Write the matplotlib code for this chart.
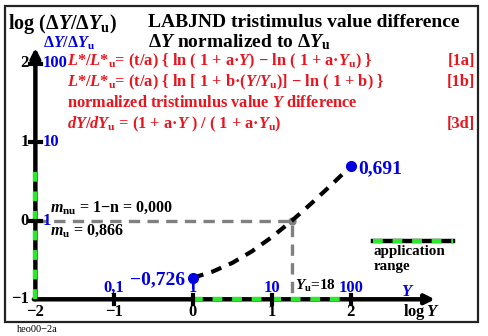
import matplotlib
matplotlib.use("Agg")
import matplotlib.pyplot as plt

# data
log_y = [0.0, 0.25, 0.5, 0.75, 1.0, 1.255, 1.5, 1.75, 2.0]
log_ratio = [-0.726, -0.647, -0.536, -0.388, -0.209, 0.0, 0.218, 0.451, 0.691]
x_ticks = [-2, -1, 0, 1, 2]
y_ticks = [-1, 0, 1, 2]
x_blue = ["0,1", "1", "10", "100"]
y_blue = ["1", "10", "100"]
log_yu = 1.255
end_lo, end_hi = -0.726, 0.691

RED = "#e8141e"
BLUE = "#0000e0"
GREEN = "#2ee82e"
GREY = "#808080"

plt.rcParams["font.family"] = ["Liberation Serif", "DejaVu Serif"]
plt.rcParams["font.weight"] = "bold"
plt.rcParams["mathtext.fontset"] = "custom"
plt.rcParams["mathtext.rm"] = "Liberation Serif:bold"
plt.rcParams["mathtext.it"] = "Liberation Serif:bold:italic"
plt.rcParams["mathtext.bf"] = "Liberation Serif:bold"

W, H = 489, 336
fig = plt.figure(figsize=(W / 100, H / 100), dpi=100)
ax = fig.add_axes([0, 0, 1, 1])
ax.set_xlim(-2.449, 3.756)
ax.set_ylim(-1.467, 2.808)
ax.axis("off")


def T(xp, yp, s, **kw):
    # place text by pixel position (from top-left)
    fig.text(xp / W, 1 - yp / H, s, **kw)


# frame
fig.patches.append(plt.Rectangle((5 / W, 1 - 322 / H), 473 / W, 316 / H,
                                 transform=fig.transFigure, fill=False,
                                 lw=1.6, ec="#222222"))

# axes with arrows
ax.annotate("", xy=(-2, 2.2), xytext=(-2, -1),
            arrowprops=dict(arrowstyle="-|>", lw=3.2, color="k",
                            mutation_scale=14, shrinkA=0, shrinkB=0))
ax.annotate("", xy=(3.07, -1), xytext=(-2.02, -1),
            arrowprops=dict(arrowstyle="-|>", lw=3.2, color="k",
                            mutation_scale=14, shrinkA=0, shrinkB=0))

# application range (green dashes on the axes)
ax.plot([0, 2], [-1, -1], color=GREEN, lw=3.2, dashes=(2.2, 2.2), zorder=3)
ax.plot([-2, -2], [-1, end_hi], color=GREEN, lw=3.2, dashes=(2.2, 2.2), zorder=3)

# ticks
for t in x_ticks[1:]:
    ax.plot([t, t], [-1.06, -0.94], color="k", lw=3, zorder=4)
for t in y_ticks[1:]:
    ax.plot([-2.07, -1.93], [t, t], color="k", lw=3, zorder=4)

# grey reference lines
ax.plot([-2, log_yu, log_yu], [0, 0, -1], color=GREY, lw=2.4,
        dashes=(3.4, 2.2), zorder=2)
ax.plot([log_yu], [0], "o", color=GREY, ms=5, zorder=3)

# curve
ax.plot(log_y, log_ratio, color="k", lw=3, dashes=(2.6, 2.0), zorder=3)
ax.plot([0, 0], [end_lo, -0.85], color=BLUE, lw=1.5, zorder=4)
ax.plot([0, 2], [end_lo, end_hi], "o", color=BLUE, ms=7, zorder=5)

# legend line
ax.plot([2.284, 3.30], [-0.258, -0.258], color="k", lw=3.2)
ax.plot([2.284, 3.30], [-0.258, -0.258], color=GREEN, lw=3.2, dashes=(2.2, 2.2))

# tick labels
for t in x_ticks:
    lab = "\u2212" + str(-t) if t < 0 else str(t)
    ax.text(t, -1.0 - 0.16, lab, fontsize=12, ha="center", va="center")
for t, yp in zip(y_ticks, [299, 221, 142, 63]):
    lab = "\u2212" + str(-t) if t < 0 else str(t)
    T(29, yp, lab, fontsize=12, ha="right", va="center")
for lab, t in zip(x_blue, x_ticks[1:]):
    ax.text(t, -0.86, lab, fontsize=12, ha="center", va="center", color=BLUE)
for lab, yp in zip(y_blue, [221, 142, 63]):
    T(43, yp, lab, fontsize=12, ha="left", va="center", color=BLUE)
T(408, 292, "$Y$", fontsize=12, ha="center", va="center", color=BLUE)
T(421, 312, "log$\\,Y$", fontsize=12, ha="center", va="center")

# titles
T(8, 29, "log ($\\Delta Y/\\Delta Y_\\mathrm{u}$)", fontsize=14.5)
T(148, 27, "LABJND tristimulus value difference", fontsize=14)
T(148, 47, "$\\Delta Y$ normalized to $\\Delta Y_\\mathrm{u}$", fontsize=14)
T(43, 48, "$\\Delta Y/\\Delta Y_\\mathrm{u}$", fontsize=11.5, color=BLUE)

# formulas
red_lines = [
    "$L$*/$L$*$_\\mathrm{u}$= (t/a) { ln ( 1 + a\u00b7$Y$) \u2212 ln ( 1 + a\u00b7$Y_\\mathrm{u}$) }",
    "$L$*/$L$*$_\\mathrm{u}$= (t/a) { ln [ 1 + b\u00b7($Y/Y_\\mathrm{u}$)] \u2212 ln ( 1 + b) }",
    "normalized tristimulus value $Y$ difference",
    "$dY/dY_\\mathrm{u}$ = (1 + a\u00b7$Y$ ) / ( 1 + a\u00b7$Y_\\mathrm{u}$)",
]
red_tags = ["[1a]", "[1b]", "", "[3d]"]
for s, tag, yp in zip(red_lines, red_tags, [65, 86, 107, 128]):
    T(67, yp, s, fontsize=11.8, color=RED)
    if tag:
        T(475, yp, tag, fontsize=11.8, color=RED, ha="right")

# annotations
T(185, 280, "\u22120,726", fontsize=14, color=BLUE, ha="right", va="center")
T(358, 169, "0,691", fontsize=14, color=BLUE, ha="left", va="center")
T(50, 212, "$m_\\mathrm{nu}$ = 1\u2212n = 0,000", fontsize=11.5)
T(50, 235, "$m_\\mathrm{u}$ = 0,866", fontsize=11.5)
T(295, 290, "$Y_\\mathrm{u}$=18", fontsize=11)
T(374, 255, "application", fontsize=10.8)
T(374, 270, "range", fontsize=10.8)
T(17, 329, "heo00\u22122a", fontsize=7.5, weight="normal", va="center")

fig.savefig("out.png", dpi=100)
